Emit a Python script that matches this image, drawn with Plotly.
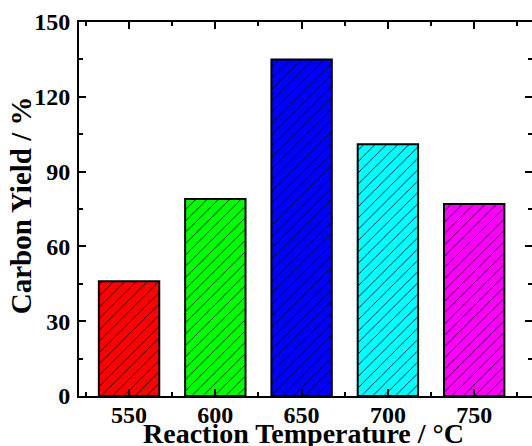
import plotly.graph_objects as go

temperatures = [550, 600, 650, 700, 750]
carbon_yield = [46, 79, 135, 101, 77]
bar_colors = ["#ff0000", "#00ff00", "#0000ff", "#00ffff", "#ff00ff"]
y_ticks = [0, 30, 60, 90, 120, 150]
x_title = "Reaction Temperature / °C"
y_title = "Carbon Yield / %"

FONT = "Liberation Serif"

fig = go.Figure()
for t, v, c in zip(temperatures, carbon_yield, bar_colors):
    fig.add_trace(go.Bar(
        x=[t],
        y=[v],
        width=35,
        marker=dict(
            color=c,
            line=dict(color="black", width=2),
            pattern=dict(shape="/", fgcolor="black", bgcolor=c,
                         fgopacity=1, size=8, solidity=0.1, fillmode="replace"),
        ),
        showlegend=False,
        hoverinfo="skip",
    ))

axis_common = dict(
    showline=True, linecolor="black", linewidth=2, mirror="allticks",
    ticks="inside", tickcolor="black", tickwidth=2, ticklen=7,
    showgrid=False, zeroline=False, automargin=False,
    tickfont=dict(family=FONT, size=24, color="black"),
)

fig.update_xaxes(
    **axis_common,
    range=[521, 783.5],
    tickvals=temperatures,
    ticktext=["<b>%d</b>" % t for t in temperatures],
    ticklabelstandoff=-4,
    minor=dict(ticks="inside", ticklen=4, tickwidth=2, tickcolor="black", dtick=25, tick0=525),
)
fig.update_yaxes(
    **axis_common,
    range=[0, 150],
    tickvals=y_ticks,
    ticktext=["<b>%d</b>" % v for v in y_ticks],
    ticklabelstandoff=2,
    minor=dict(ticks="inside", ticklen=4, tickwidth=2, tickcolor="black", dtick=15, tick0=0),
)

fig.add_annotation(
    text="<b>%s</b>" % x_title, xref="paper", yref="paper",
    x=0.495, y=0, xanchor="center", yanchor="top", yshift=-20,
    showarrow=False, font=dict(family=FONT, size=28, color="black"),
)
fig.add_annotation(
    text="<b>%s</b>" % y_title, xref="paper", yref="paper",
    x=0, y=0.51, xanchor="center", yanchor="middle", xshift=-58,
    textangle=-90, showarrow=False, font=dict(family=FONT, size=29, color="black"),
)

fig.update_layout(
    width=532, height=446,
    margin=dict(l=79, r=0, t=22, b=50),
    paper_bgcolor="white", plot_bgcolor="white",
    barmode="overlay",
)

fig.write_html("out.html",
               config={"displayModeBar": False},
               post_script="document.body.style.margin='0';document.body.style.overflow='hidden';")
